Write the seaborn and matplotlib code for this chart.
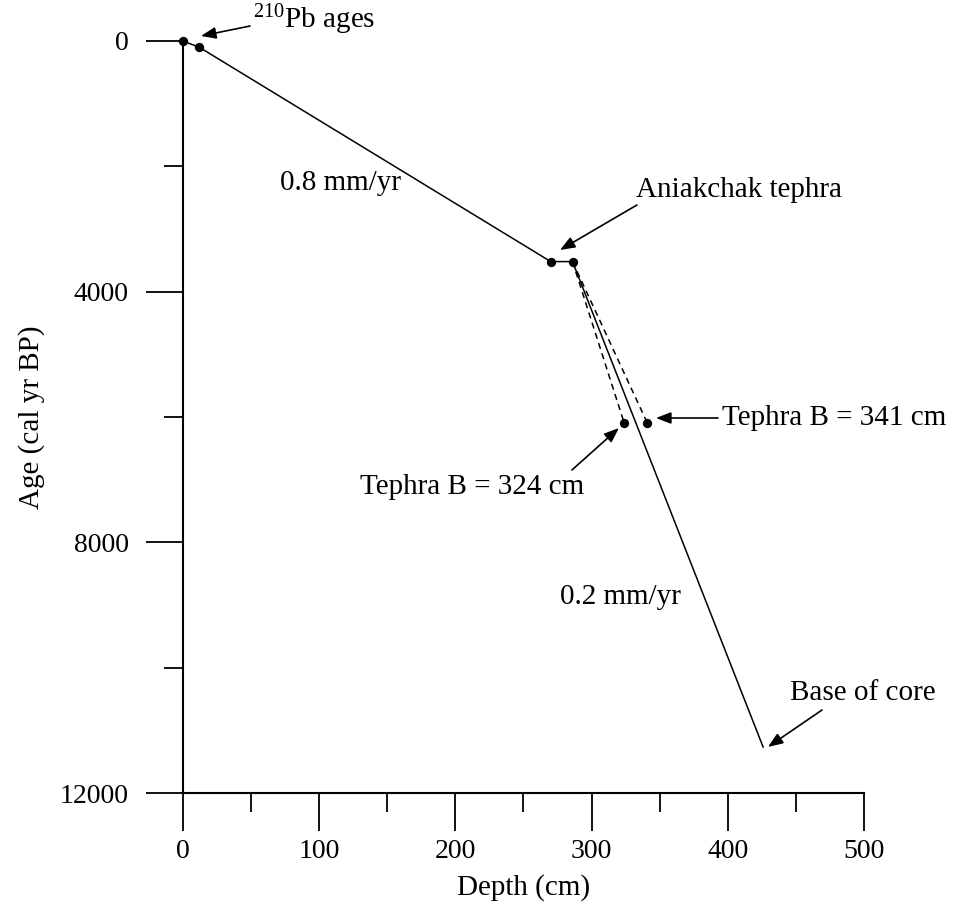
import matplotlib
matplotlib.use("Agg")
import matplotlib.pyplot as plt
import seaborn as sns
import pandas as pd

# Age-depth model segments (depth in cm, age in cal yr BP)
model_depth = [0, 12, 270, 286, 426]
model_age = [0, 100, 3520, 3520, 11270]

# Dated horizons
dated_depth = [0, 12, 270, 286, 324, 341]
dated_age = [0, 100, 3520, 3520, 6100, 6100]

# Alternative tephra B placements
alt_depth_324 = [286, 324]
alt_depth_341 = [286, 341]
alt_age = [3520, 6100]

x_ticks_major = [0, 100, 200, 300, 400, 500]
y_ticks_major = [0, 4000, 8000, 12000]

sns.set_style("ticks")
plt.rcParams["font.family"] = ["Liberation Serif", "DejaVu Serif"]
plt.rcParams["mathtext.fontset"] = "custom"
plt.rcParams["mathtext.rm"] = "Liberation Serif"
plt.rcParams["mathtext.it"] = "Liberation Serif:italic"
plt.rcParams["text.color"] = "black"
plt.rcParams["axes.labelcolor"] = "black"

FS = 21
TICK_FS = 20

fig = plt.figure(figsize=(9.55, 9.09), dpi=100)
ax = fig.add_axes([0.1916, 0.1276, 0.7131, 0.8273])

model = pd.DataFrame({"depth": model_depth, "age": model_age})
sns.lineplot(data=model, x="depth", y="age", sort=False, color="black",
             linewidth=1.1, ax=ax, estimator=None)
for d in (alt_depth_324, alt_depth_341):
    sns.lineplot(x=d, y=alt_age, sort=False, color="black", linewidth=1.1,
                 linestyle=(0, (4, 3)), ax=ax, estimator=None)
sns.scatterplot(x=dated_depth, y=dated_age, color="black", s=45,
                edgecolor="black", linewidth=0, ax=ax, clip_on=False, zorder=5)

ax.set_xlim(0, 500)
ax.set_ylim(12000, 0)
ax.set_xticks(x_ticks_major)
ax.set_xticks([50, 150, 250, 350, 450], minor=True)
ax.set_yticks(y_ticks_major)
ax.set_yticks([2000, 6000, 10000], minor=True)
ax.set_xticklabels([str(v) for v in x_ticks_major])
ax.set_yticklabels([str(v) for v in y_ticks_major])

for s in ("top", "right"):
    ax.spines[s].set_visible(False)
for s in ("left", "bottom"):
    ax.spines[s].set_linewidth(1.5)
    ax.spines[s].set_color("black")
ax.tick_params(which="major", direction="out", length=27, width=1.3,
               labelsize=TICK_FS, colors="black")
ax.tick_params(which="minor", direction="out", length=14, width=1.3,
               colors="black")
ax.tick_params(axis="y", which="major", pad=12)
ax.tick_params(axis="x", which="major", pad=6)

ax.set_xlabel("Depth (cm)", fontsize=FS, labelpad=7)
ax.set_ylabel("Age (cal yr BP)", fontsize=FS, labelpad=11)

arrow = dict(arrowstyle="-|>,head_length=0.9,head_width=0.35",
             color="black", lw=1.2, shrinkA=0, shrinkB=0)

ax.annotate("", xy=(13.2, -80), xytext=(49.2, -239),
            arrowprops=arrow, annotation_clip=False)
ax.text(51.4, -207, "$^{210}$Pb ages", fontsize=FS, ha="left", va="baseline",
        clip_on=False)

ax.annotate("", xy=(276.8, 3335), xytext=(333.3, 2617), arrowprops=arrow)
ax.text(332.6, 2378, "Aniakchak tephra", fontsize=FS, ha="left", va="center")

ax.annotate("", xy=(347.3, 6016), xytext=(392.8, 6016), arrowprops=arrow)
ax.text(395.7, 6016, "Tephra B = 341 cm", fontsize=FS, ha="left", va="center",
        clip_on=False)

ax.annotate("", xy=(320.1, 6175), xytext=(285.6, 6845), arrowprops=arrow)
ax.text(130, 7117, "Tephra B = 324 cm", fontsize=FS, ha="left", va="center")

ax.annotate("", xy=(429.5, 11265), xytext=(469.2, 10675), arrowprops=arrow)
ax.text(445.7, 10404, "Base of core", fontsize=FS, ha="left", va="center")

ax.text(71.2, 2266, "0.8 mm/yr", fontsize=FS, ha="left", va="center")
ax.text(276.8, 8872, "0.2 mm/yr", fontsize=FS, ha="left", va="center")

fig.savefig("out.png", dpi=100, facecolor="white")
